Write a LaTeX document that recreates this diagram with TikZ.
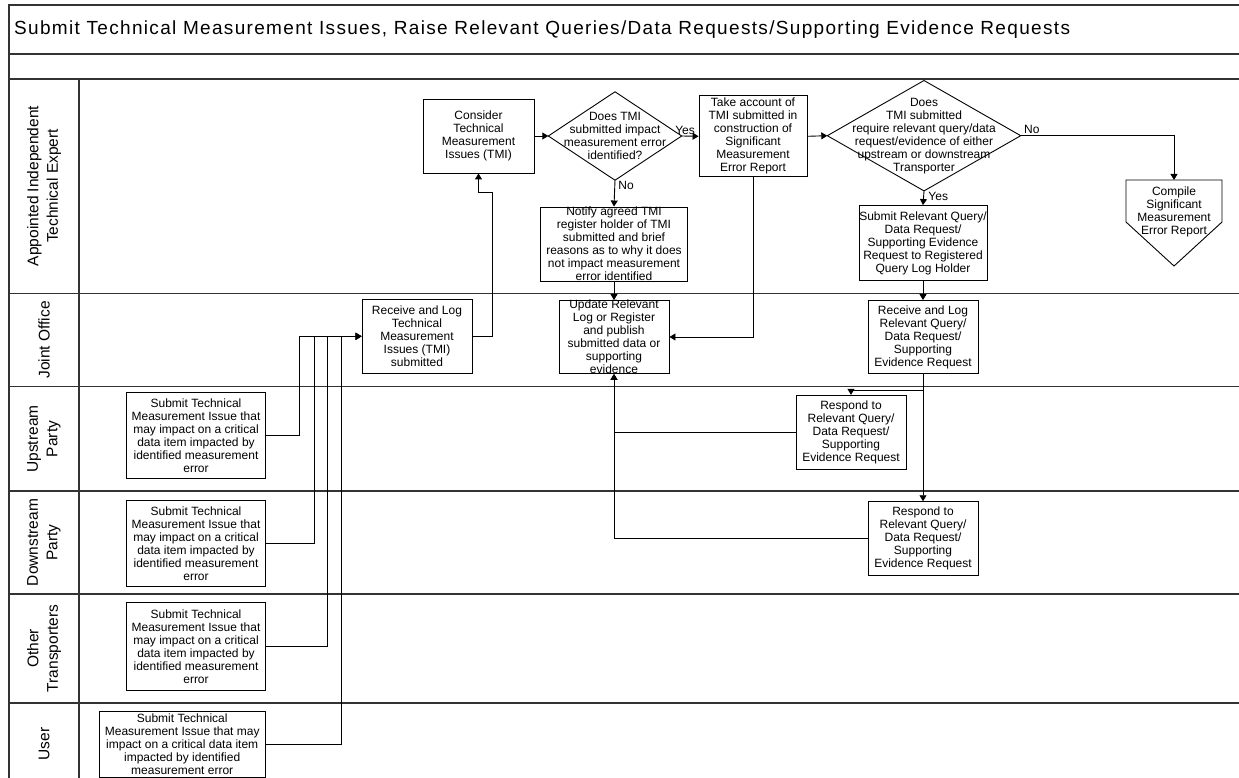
\documentclass[tikz,border=0pt]{standalone}
\usepackage{fontspec}
\setmainfont{Liberation Sans}
\newfontfamily\ttlfont[LetterSpace=7]{Liberation Sans}
\usetikzlibrary{arrows.meta}

\begin{document}
\begin{tikzpicture}[x=1pt,y=1pt]
\tikzstyle{every node}+=[inner sep=0pt]
\tikzstyle{frame}=[black!80, line width=1.2pt]
\tikzstyle{box}=[draw=black, line width=0.9pt, align=center, font=\fontsize{12}{13}\selectfont]
\tikzstyle{dec}=[align=center, font=\fontsize{12}{13}\selectfont]
\tikzstyle{lane}=[rotate=90, align=center, font=\fontsize{15.5}{19.5}\selectfont]
\tikzstyle{lbl}=[font=\fontsize{12}{13}\selectfont]
\tikzstyle{con}=[black, line width=0.9pt]
\tikzstyle{arr}=[con, -{Triangle[length=6pt,width=7pt]}]
\useasboundingbox (0,0) rectangle (1239,-778);
\draw [frame] (1239,-5) -- (9,-5) -- (9,-778);
\draw [frame] (9,-54) -- (1239,-54);
\draw [frame] (9,-79) -- (1239,-79);
\draw [frame] (79,-79) -- (79,-778);
\draw [frame] (9,-293.3) -- (1239,-293.3);
\draw [frame] (9,-386.7) -- (1239,-386.7);
\draw [frame] (9,-491) -- (1239,-491);
\draw [frame] (9,-594) -- (1239,-594);
\draw [frame] (9,-703) -- (1239,-703);
\node [anchor=west, font=\ttlfont\fontsize{19}{22}\selectfont] (title) at (14,-29.5) {Submit Technical Measurement Issues, Raise Relevant Queries/Data Requests/Supporting Evidence Requests};
\node [lane] (laite) at (44,-186) {Appointed Independent\\Technical Expert};
\node [lane] (ljo) at (44,-340) {Joint Office};
\node [lane] (lup) at (44,-439) {Upstream\\Party};
\node [lane] (ldown) at (44,-542.5) {Downstream\\Party};
\node [lane] (lother) at (44,-648.5) {Other\\Transporters};
\node [lane] (luser) at (44,-744) {User};
\node [box, minimum width=111pt, minimum height=74pt] (tmiconsider) at (478.5,-136) {Consider\\Technical\\Measurement\\Issues (TMI)};
\node [dec, minimum width=133pt, minimum height=88pt] (d1) at (615,-136) {Does TMI\\submitted impact\\measurement error\\identified?};
\draw [con] (d1.west) -- (d1.north) -- (d1.east) -- (d1.south) -- cycle;
\node [box, minimum width=108pt, minimum height=81pt] (takeacc) at (753,-136.3) {Take account of\\TMI submitted in\\construction of\\Significant\\Measurement\\Error Report};
\node [dec, minimum width=193pt, minimum height=110pt] (d2) at (924,-135.7) {Does\\TMI submitted\\require relevant query/data\\request/evidence of either\\upstream or downstream\\Transporter};
\draw [con] (d2.west) -- (d2.north) -- (d2.east) -- (d2.south) -- cycle;
\node [dec] (cmp) at (1174,-212) {Compile\\Significant\\Measurement\\Error Report};
\coordinate (cmptop) at (1174,-180);
\draw [con] (1126,-180) -- (1222,-180) -- (1222,-222) -- (1174,-266) -- (1126,-222) -- cycle;
\node [box, minimum width=147pt, minimum height=74pt, label={[dec]center:Notify agreed TMI\\register holder of TMI\\submitted and brief\\reasons as to why it does\\not impact measurement\\error identified}] (notify) at (614,-244) {};
\node [box, minimum width=128pt, minimum height=75pt] (sbmquery) at (923,-243) {Submit Relevant Query/\\Data Request/\\Supporting Evidence\\Request to Registered\\Query Log Holder};
\node [box, minimum width=110pt, minimum height=74pt] (rcvtmi) at (417,-336.3) {Receive and Log\\Technical\\Measurement\\Issues (TMI)\\submitted};
\node [box, minimum width=110pt, minimum height=73pt, label={[dec]center:Update Relevant\\Log or Register\\and publish\\submitted data or\\supporting\\evidence}] (update) at (614,-337) {};
\node [box, minimum width=110pt, minimum height=73pt] (rcvquery) at (923,-337) {Receive and Log\\Relevant Query/\\Data Request/\\Supporting\\Evidence Request};
\node [box, minimum width=110pt, minimum height=74pt] (resp1) at (851,-432.3) {Respond to\\Relevant Query/\\Data Request/\\Supporting\\Evidence Request};
\node [box, minimum width=110pt, minimum height=74pt] (resp2) at (923,-538.7) {Respond to\\Relevant Query/\\Data Request/\\Supporting\\Evidence Request};
\node [box, minimum width=138.5pt, minimum height=86pt] (subup) at (196,-435.3) {Submit Technical\\Measurement Issue that\\may impact on a critical\\data item impacted by\\identified measurement\\error};
\node [box, minimum width=138.5pt, minimum height=86.7pt] (subdown) at (196,-543.3) {Submit Technical\\Measurement Issue that\\may impact on a critical\\data item impacted by\\identified measurement\\error};
\node [box, minimum width=138.5pt, minimum height=88.4pt] (subother) at (196,-646.5) {Submit Technical\\Measurement Issue that\\may impact on a critical\\data item impacted by\\identified measurement\\error};
\node [box, minimum width=165.7pt, minimum height=66.7pt] (subuser) at (182.2,-744.4) {Submit Technical\\Measurement Issue that may\\impact on a critical data item\\impacted by identified\\measurement error};
\draw [arr] (subup.east) -- ++(34.1,0) |- (rcvtmi.west);
\draw [arr] (subdown.east) -- ++(48.4,0) |- (rcvtmi.west);
\draw [arr] (subother.east) -- ++(61.8,0) |- (rcvtmi.west);
\draw [arr] (subuser.east) -- ++(75.7,0) |- (rcvtmi.west);
\draw [arr] (rcvtmi.east) -- ++(20,0) -- ++(0,144.3) -| (tmiconsider.south);
\draw [arr] (tmiconsider.east) -- (d1.west);
\draw [arr] (d1.east) -- node [lbl, above=1pt, pos=0.2] (yes1) {Yes} (takeacc.west);
\draw [arr] (d1.south) -- node [lbl, anchor=north west, pos=0, xshift=3pt, yshift=-1pt] (no1) {No} (notify.north);
\draw [arr] (notify.south) -- (update.north);
\draw [arr] (takeacc.south) |- (update.east);
\draw [arr] (takeacc.east) -- (d2.west);
\draw [arr] (d2.east) -| node [lbl, anchor=south west, pos=0, xshift=3pt, yshift=2pt] (no2) {No} (cmptop);
\draw [arr] (d2.south) -- node [lbl, anchor=north west, pos=0, xshift=4pt, yshift=-1pt] (yes2) {Yes} (sbmquery.north);
\draw [arr] (sbmquery.south) -- (rcvquery.north);
\draw [arr] (rcvquery.south) -- ++(0,-16) -| (resp1.north);
\draw [arr] (rcvquery.south) -- (resp2.north);
\draw [arr] (resp1.west) -| (update.south);
\draw [arr] (resp2.west) -| (update.south);
\end{tikzpicture}
\end{document}
